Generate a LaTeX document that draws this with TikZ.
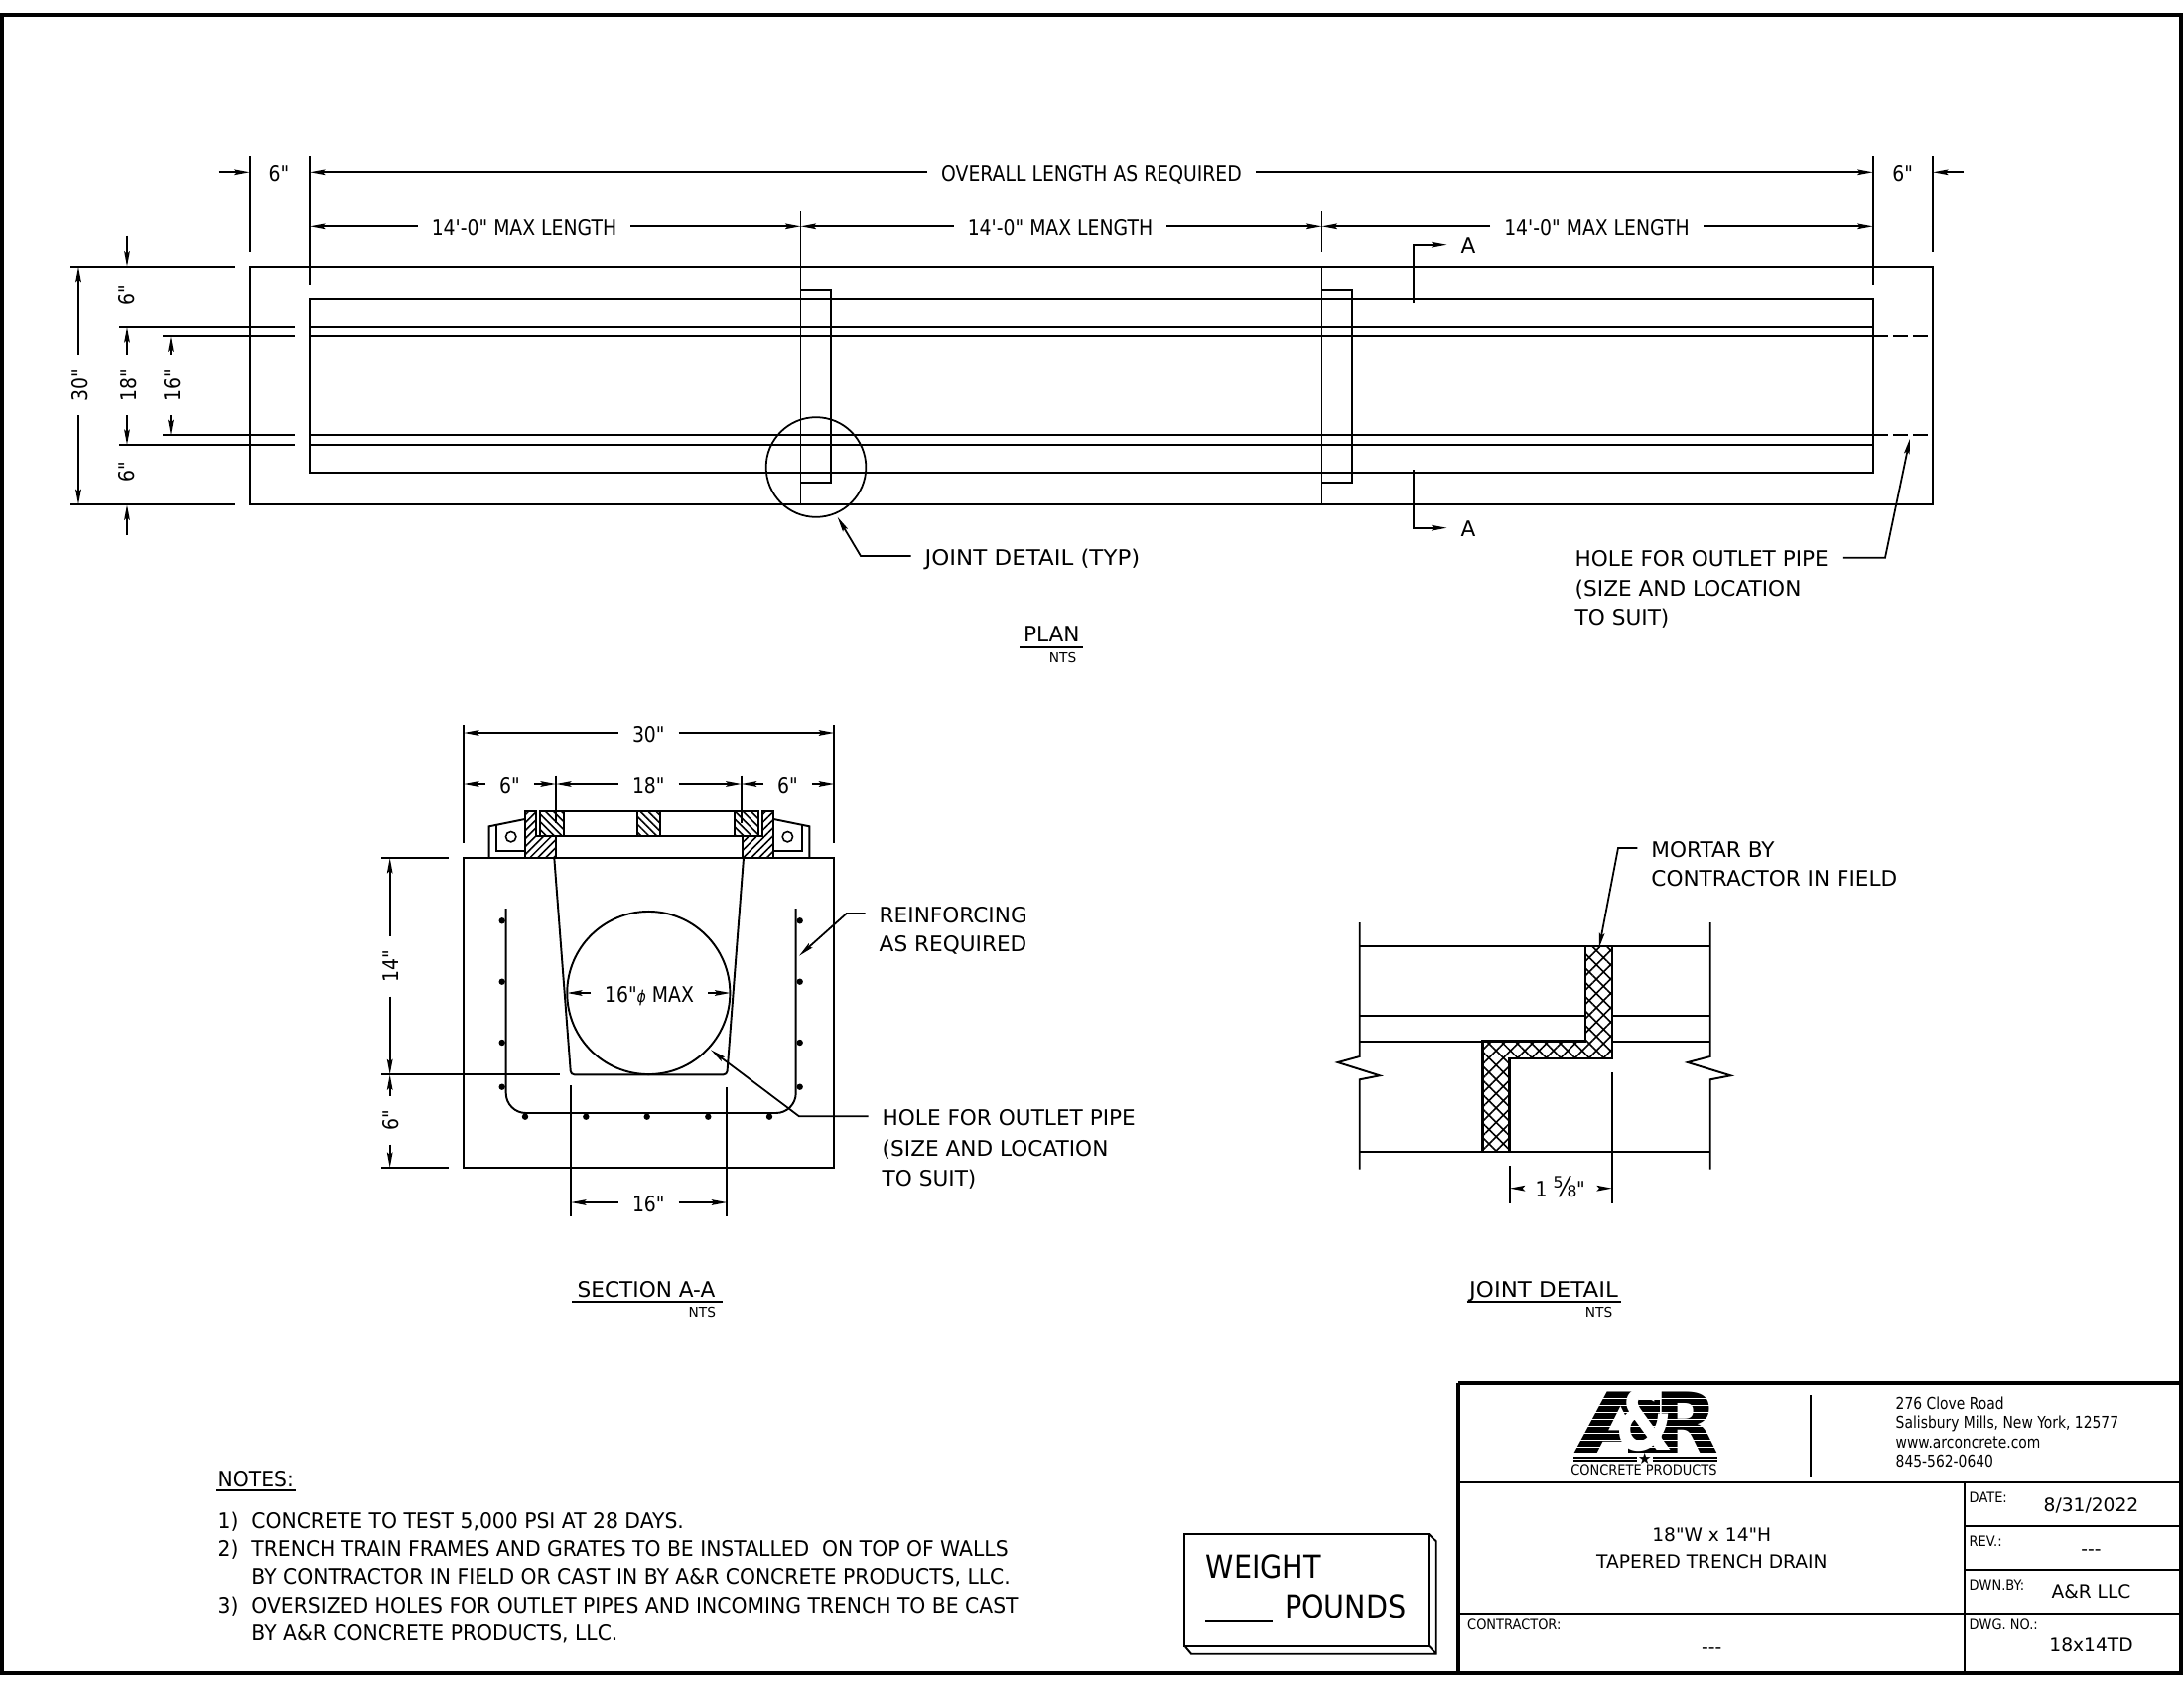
\documentclass[tikz,border=0pt]{standalone}
\usepackage{fontspec}
\setmainfont{DejaVu Sans}[Ligatures=TeXOff]
\newfontfamily\dimfamily{DejaVu Sans}[Ligatures=TeXOff,FakeStretch=0.87]
\newfontfamily\notefamily{DejaVu Sans}[Ligatures=TeXOff,FakeStretch=0.94]
\newfontfamily\widefamily{DejaVu Sans}[Ligatures=TeXOff,FakeStretch=1.06]
\newfontfamily\bigfamily{DejaVu Sans}[Ligatures=TeXOff,FakeStretch=0.895]
\newfontfamily\addrfamily{DejaVu Sans}[Ligatures=TeXOff,FakeStretch=0.84]
\newfontfamily\lblfamily{DejaVu Sans}[Ligatures=TeXOff,FakeStretch=0.9]
\usetikzlibrary{arrows.meta,patterns.meta,calc}
\newcommand{\cadsize}{\fontsize{6.15}{7}\selectfont}
\newcommand{\ntssize}{\fontsize{3.9}{5}\selectfont}
\newcommand{\valsize}{\fontsize{5.3}{6}\selectfont}
\tikzset{part/.style={line width=.55pt}}
\tikzset{tip/.style={-{Stealth[length=4.4pt,width=1.6pt,inset=.7pt]}}}
\tikzset{dimline/.style={line width=.5pt,tip}}
\tikzset{cadtext/.style={font=\cadsize,inner sep=0pt,text height=1.8mm,text depth=0pt}}
\tikzset{dimtext/.style={cadtext,font=\dimfamily\cadsize,inner xsep=3.8pt}}
\tikzset{sixtext/.style={cadtext,font=\dimfamily\cadsize}}
\tikzset{leadtext/.style={cadtext,inner xsep=3.8pt,anchor=west}}
\tikzset{linetext/.style={cadtext,anchor=west}}
\tikzset{notetext/.style={linetext,font=\notefamily\cadsize}}
\tikzset{ntstext/.style={font=\ntssize,inner sep=0pt,text height=1mm,text depth=0pt,anchor=east}}
\tikzset{lbltext/.style={font=\lblfamily\fontsize{4.1}{5}\selectfont,inner sep=0pt,text height=1.05mm,text depth=0pt,anchor=west}}
\tikzset{addrtext/.style={font=\addrfamily\fontsize{4.7}{6}\selectfont,inner sep=0pt,text height=1.2mm,text depth=0pt,anchor=west}}
\tikzset{valtext/.style={font=\valsize,inner sep=0pt,text height=1.4mm,text depth=0pt}}
\tikzset{bigtext/.style={font=\bigfamily\fontsize{9.1}{10}\selectfont,inner sep=0pt,text height=2.3mm,text depth=0pt,anchor=west}}
\tikzset{logotext/.style={font=\fontsize{24}{24}\selectfont\bfseries,inner sep=0pt,text height=6.2mm,text depth=0pt}}
\tikzset{hatchup/.style={pattern={Lines[angle=45,distance=1.6pt,line width=.45pt]}}}
\tikzset{hatchdown/.style={pattern={Lines[angle=-45,distance=1.6pt,line width=.45pt]}}}
\tikzset{mortar/.style={pattern={Hatch[angle=45,distance=2.9pt,line width=.45pt]}}}

\begin{document}
\begin{tikzpicture}
[x=0.01cm,y=-0.01cm]
\useasboundingbox (0,0) rectangle (2200,1700);
\draw[line width=1.4pt] (2,15) rectangle (2197,1685);

\coordinate (oa) at (251.7,268.7);
\coordinate (ob) at (1947,508.3);
\coordinate (ia) at (312,301);
\coordinate (ib) at (1886.7,476);
\coordinate (ja) at (806.5,228.3);
\coordinate (jb) at (1331.5,228.3);

\draw[part] (oa) rectangle (ob);
\draw[part] (ia) rectangle (ib);
\foreach \y in {329,338.3,438.3,448} \draw[part] (ia |- 0,\y) -- (ib |- 0,\y);
\draw[part,dash pattern=on 4.3pt off 1.4pt] (1886.7,338.3) -- (1947,338.3);
\draw[part,dash pattern=on 4.3pt off 1.4pt] (1886.7,438.3) -- (1947,438.3);
\draw[part] (71,268.7) -- (237,268.7);
\draw[part] (71,508.3) -- (237,508.3);
\draw[part] (120,329) -- (297.3,329);
\draw[part] (120,448) -- (297.3,448);
\draw[part] (164,338.3) -- (297.3,338.3);
\draw[part] (164,438.3) -- (297.3,438.3);
\draw[part] (251.7,157.3) -- (251.7,254);
\draw[part] (312,157.3) -- (312,286.7);
\draw[part] (1886.7,157.3) -- (1886.7,286.7);
\draw[part] (1947,157.3) -- (1947,254);
\draw[part] (806.5,213) -- (806.5,508.3);
\draw[part] (1331.5,213) -- (1331.5,254);
\draw[part] (1331.5,268.7) -- (1331.5,508.3);
\draw[part] (806.5,292.3) -- (836.9,292.3) -- (836.9,485.7) -- (806.5,485.7);
\draw[part] (1331.5,292.3) -- (1361.9,292.3) -- (1361.9,485.7) -- (1331.5,485.7);
\node (jcirc) at (822,470.5)[draw,circle,line width=.5pt,minimum size=1.006cm,inner sep=0pt]{};

\node (overall) at (1099.5,173.3)[dimtext]{OVERALL LENGTH AS REQUIRED};
\draw[dimline] (overall.west) -- (overall.west -| ia);
\draw[dimline] (overall.east) -- (overall.east -| ib);
\node (six1) at (281,173.3)[sixtext]{6"};
\node (six2) at (1916.7,173.3)[sixtext]{6"};
\coordinate (six1a) at (220.7,173.3);
\coordinate (six2a) at (1978,173.3);
\draw[dimline] (six1a) -- (six1a -| oa);
\draw[dimline] (six2a) -- (six2a -| ob);
\node (max1) at (528,228.3)[dimtext]{14'-0" MAX LENGTH};
\node (max2) at (1068,228.3)[dimtext]{14'-0" MAX LENGTH};
\node (max3) at (1608.5,228.3)[dimtext]{14'-0" MAX LENGTH};
\draw[dimline] (max1.west) -- (max1.west -| ia);
\draw[dimline] (max1.east) -- (max1.east -| ja);
\draw[dimline] (max2.west) -- (max2.west -| ja);
\draw[dimline] (max2.east) -- (max2.east -| jb);
\draw[dimline] (max3.west) -- (max3.west -| jb);
\draw[dimline] (max3.east) -- (max3.east -| ib);

\node (thirty) at (79,388)[dimtext,rotate=90]{30"};
\draw[dimline] (thirty.east) -- (thirty.east |- oa);
\draw[dimline] (thirty.west) -- (thirty.west |- ob);
\node (eighteen) at (128,388)[dimtext,rotate=90]{18"};
\coordinate (c18a) at (128,329);
\coordinate (c18b) at (128,448);
\draw[dimline] (eighteen.east) -- (c18a);
\draw[dimline] (eighteen.west) -- (c18b);
\node (sixteen) at (172,388)[dimtext,rotate=90]{16"};
\coordinate (c16a) at (172,338.3);
\coordinate (c16b) at (172,438.3);
\draw[dimline] (sixteen.east) -- (c16a);
\draw[dimline] (sixteen.west) -- (c16b);
\node (six3) at (126,296.7)[sixtext,rotate=90]{6"};
\node (six4) at (126,475)[sixtext,rotate=90]{6"};
\coordinate (six3a) at (128,237.7);
\coordinate (six4a) at (128,539);
\draw[dimline] (six3a) -- (six3a |- oa);
\draw[dimline] (six4a) -- (six4a |- ob);

\coordinate (sa1) at (1424,305);
\coordinate (sa2) at (1424,246.7);
\coordinate (sb1) at (1424,473);
\coordinate (sb2) at (1424,531.7);
\node (atop) at (1479,246.7)[cadtext,inner xsep=3.8pt]{A};
\node (abot) at (1479,531.7)[cadtext,inner xsep=3.8pt]{A};
\draw[dimline] (sa1) -- (sa2) -- (atop.west);
\draw[dimline] (sb1) -- (sb2) -- (abot.west);

\node (joint) at (917.6,560)[leadtext,font=\widefamily\cadsize]{JOINT DETAIL (TYP)};
\coordinate (jointb) at (867,560);
\coordinate (jointc) at (843.6,520.7);
\draw[dimline] (joint.west) -- (jointb) -- (jointc);
\node (hole1) at (1572.6,561.7)[leadtext]{HOLE FOR OUTLET PIPE};
\node (hole2) at (1586,591)[linetext]{(SIZE AND LOCATION};
\node (hole3) at (1586,620.7)[linetext]{TO SUIT)};
\coordinate (holeb) at (1899,561.7);
\coordinate (holec) at (1924,441.7);
\draw[dimline] (hole1.east) -- (holeb) -- (holec);

\node (plan) at (1059.3,637.3)[cadtext]{PLAN};
\draw[part] ($(plan.west)+(-3,14.7)$) -- ($(plan.east)+(3,14.7)$);
\node (plannts) at (1085,662.7)[ntstext]{NTS};

\coordinate (sl) at (467,864);
\coordinate (sr) at (840.3,1176);
\draw[part] (sl) rectangle (sr);
\draw[part] (467,730) -- (467,849.3);
\draw[part] (840.3,730) -- (840.3,849.3);
\draw[part] (560,781.7) -- (560,829);
\draw[part] (746.7,781.7) -- (746.7,829);
\draw[part] (384,864) -- (452.3,864);
\draw[part] (384,1176) -- (452.3,1176);
\draw[part] (384,1082.3) -- (564,1082.3);
\draw[part] (575,1093.3) -- (575,1225);
\draw[part] (732.3,1095) -- (732.3,1225);

\draw[part,rounded corners=1pt] (558.3,864) -- (575,1082.3) -- (732.3,1082.3) -- (749,864);
\node (pipe) at (653.3,1000)[draw,circle,line width=.55pt,minimum size=1.64cm,inner sep=0pt]{};
\draw[part,rounded corners=5.7pt] (509.7,915) -- (509.7,1121) -- (801.7,1121) -- (801.7,915);
\foreach \y in {927.3,988.7,1050,1094.7} {
  \fill (505.7,\y) circle (3.2);
  \fill (805.7,\y) circle (3.2);
}
\foreach \x in {529,590.3,651.7,713.3,775} \fill (\x,1124.7) circle (3.2);

\draw[part] (543.7,817.3) -- (763.6,817.3);
\draw[part] (543.7,841.7) -- (763.6,841.7);
\draw[part,hatchdown] (642,817.3) rectangle (665,841.7);
\foreach \m in {0,1} {
\begin{scope}[xshift=\m*13.073cm,xscale=1-2*\m]
\draw[part,hatchup] (528.7,817.3) -- (540,817.3) -- (540,841.7) -- (560,841.7) -- (560,864) -- (528.7,864) -- cycle;
\draw[part,hatchdown] (543.7,817.3) rectangle (567.7,841.7);
\draw[part] (492.7,864) -- (492.7,832.3) -- (528.7,825);
\draw[part] (500,831) -- (500,856.7) -- (528.7,856.7);
\draw[line width=.45pt] (514.7,842.7) circle (5.2);
\end{scope}
}

\coordinate (g0) at (467,738);
\coordinate (g1) at (840.3,738);
\node (s30) at (653.3,738)[dimtext]{30"};
\draw[dimline] (s30.west) -- (g0);
\draw[dimline] (s30.east) -- (g1);
\coordinate (h0) at (467,790);
\coordinate (h1) at (560,790);
\coordinate (h2) at (746.7,790);
\coordinate (h3) at (840.3,790);
\node (s6a) at (513.5,790)[dimtext]{6"};
\node (s18) at (653.3,790)[dimtext]{18"};
\node (s6b) at (793.5,790)[dimtext]{6"};
\draw[dimline] (s6a.west) -- (h0);
\draw[dimline] (s6a.east) -- (h1);
\draw[dimline] (s18.west) -- (h1);
\draw[dimline] (s18.east) -- (h2);
\draw[dimline] (s6b.west) -- (h2);
\draw[dimline] (s6b.east) -- (h3);

\node (s14) at (392.7,973.3)[dimtext,rotate=90]{14"};
\coordinate (v0) at (392.7,864);
\coordinate (v1) at (392.7,1082.3);
\coordinate (v2) at (392.7,1176);
\draw[dimline] (s14.east) -- (v0);
\draw[dimline] (s14.west) -- (v1);
\node (s6c) at (392.7,1128.3)[dimtext,rotate=90]{6"};
\draw[dimline] (s6c.east) -- (v1);
\draw[dimline] (s6c.west) -- (v2);

\node (phi) at (654,1000)[dimtext]{16"{\fontsize{4.6}{5}\selectfont\itshape ϕ} MAX};
\coordinate (p0) at (571,1000);
\coordinate (p1) at (735.5,1000);
\draw[dimline] (phi.west) -- (p0);
\draw[dimline] (phi.east) -- (p1);
\node (s16) at (653.3,1211)[dimtext]{16"};
\coordinate (u0) at (575,1211);
\coordinate (u1) at (732.3,1211);
\draw[dimline] (s16.west) -- (u0);
\draw[dimline] (s16.east) -- (u1);

\node (rein1) at (871.6,920)[leadtext]{REINFORCING};
\node (rein2) at (885,949.3)[linetext]{AS REQUIRED};
\coordinate (reinb) at (852.7,920);
\coordinate (reinc) at (805,962.7);
\draw[dimline] (rein1.west) -- (reinb) -- (reinc);
\node (shole1) at (874.6,1124.3)[leadtext]{HOLE FOR OUTLET PIPE};
\node (shole2) at (888,1155)[linetext]{(SIZE AND LOCATION};
\node (shole3) at (888,1185)[linetext]{TO SUIT)};
\coordinate (sholeb) at (805,1124.3);
\coordinate (sholec) at (716,1057.3);
\draw[dimline] (shole1.west) -- (sholeb) -- (sholec);

\node (section) at (651,1297.3)[cadtext]{SECTION A-A};
\draw[part] ($(section.west)+(-4.7,14)$) -- ($(section.east)+(6.7,14)$);
\node (sectionnts) at (721.7,1321.3)[ntstext]{NTS};

\draw[part] (1369.7,929) -- (1369.7,1064) -- (1347.7,1070) -- (1390,1083.3) -- (1369.7,1087.3) -- (1369.7,1177.7);
\draw[part] (1722.7,929) -- (1722.7,1064) -- (1700,1070) -- (1743.3,1083.3) -- (1722.7,1087.3) -- (1722.7,1177.7);
\draw[part] (1369.7,953) -- (1722.7,953);
\draw[part] (1369.7,1023) -- (1722.7,1023);
\draw[part] (1369.7,1048.7) -- (1722.7,1048.7);
\draw[part] (1369.7,1160) -- (1722.7,1160);
\fill[white] (1597,953) -- (1624,953) -- (1624,1066) -- (1520.7,1066) -- (1520.7,1160) -- (1493.7,1160) -- (1493.7,1048.7) -- (1597,1048.7) -- cycle;
\draw[line width=.8pt,mortar] (1597,953) -- (1624,953) -- (1624,1066) -- (1520.7,1066) -- (1520.7,1160) -- (1493.7,1160) -- (1493.7,1048.7) -- (1597,1048.7) -- cycle;
\draw[part] (1520.7,1174.3) -- (1520.7,1212.3);
\draw[part] (1624,1080) -- (1624,1212.3);
\node (fract) at (1571.7,1196.7)[dimtext]{1 {\fontsize{8}{8}\selectfont ⅝}"};
\coordinate (fr0) at (1520.7,1196.7);
\coordinate (fr1) at (1624,1196.7);
\draw[dimline] (fract.west) -- (fr0);
\draw[dimline] (fract.east) -- (fr1);
\node (mortar1) at (1649.3,854)[leadtext]{MORTAR BY};
\node (mortar2) at (1662.7,883.3)[linetext]{CONTRACTOR IN FIELD};
\coordinate (mortarb) at (1630,854);
\coordinate (mortarc) at (1610.7,955);
\draw[dimline] (mortar1.west) -- (mortarb) -- (mortarc);

\node (jtitle) at (1555,1297.3)[cadtext,font=\widefamily\cadsize]{JOINT DETAIL};
\draw[part] ($(jtitle.west)+(-2,14)$) -- ($(jtitle.east)+(2,14)$);
\node (jtitlents) at (1625,1321.3)[ntstext]{NTS};

\node (notes) at (219,1488.3)[notetext]{NOTES:};
\draw[part] ($(notes.west)+(-1,12.4)$) -- ($(notes.east)+(1,12.4)$);
\node (n1) at (219,1530)[notetext]{1)};
\node (n1a) at (252.7,1530)[notetext]{CONCRETE TO TEST 5,000 PSI AT 28 DAYS.};
\node (n2) at (219,1558.3)[notetext]{2)};
\node (n2a) at (252.7,1558.3)[notetext]{TRENCH TRAIN FRAMES AND GRATES TO BE INSTALLED\ \ ON TOP OF WALLS};
\node (n2b) at (252.7,1586.7)[notetext]{BY CONTRACTOR IN FIELD OR CAST IN BY A\&R CONCRETE PRODUCTS, LLC.};
\node (n3) at (219,1615)[notetext]{3)};
\node (n3a) at (252.7,1615)[notetext]{OVERSIZED HOLES FOR OUTLET PIPES AND INCOMING TRENCH TO BE CAST};
\node (n3b) at (252.7,1643.3)[notetext]{BY A\&R CONCRETE PRODUCTS, LLC.};

\draw[part] (1193.3,1545) rectangle (1439.3,1657.7);
\draw[part] (1439.3,1545) -- (1446.7,1552.3) -- (1446.7,1665.7) -- (1200,1665.7) -- (1193.3,1657.7);
\draw[part] (1439.3,1657.7) -- (1446.7,1665.7);
\node (weight) at (1214,1578.3)[bigtext]{WEIGHT};
\node (pounds) at (1293.3,1618.3)[bigtext]{POUNDS};
\coordinate (blank0) at (1214,1633.3);
\coordinate (blank1) at (1281.7,1633.3);
\draw[part] (blank0) -- (blank1);

\draw[line width=1.1pt] (1469,1393.3) -- (2197,1393.3);
\draw[line width=1pt] (1469,1393.3) -- (1469,1685);
\draw[line width=.65pt] (1469,1492.7) -- (2197,1492.7);
\draw[line width=.5pt] (1823.8,1405) -- (1823.8,1486.7);
\draw[line width=.55pt] (1469,1625) -- (2197,1625);
\draw[line width=.55pt] (1979,1492.7) -- (1979,1685);
\draw[line width=.55pt] (1979,1536.7) -- (2197,1536.7);
\draw[line width=.55pt] (1979,1580.7) -- (2197,1580.7);

\node (logoa) at (1633,1432.5)[logotext]{\scalebox{1.45}[1]{A}};
\node (logor) at (1699,1432.5)[logotext]{R};
\fill (1640,1410) rectangle (1672,1463);
\foreach \y in {1408,1415,1422,1429,1436,1443,1450,1457} \draw[white,line width=.18pt] (1584,\y) -- (1732,\y);
\node (logoamp) at (1657,1430)[font=\fontsize{19}{19}\selectfont\bfseries,text=white,inner sep=0pt]{\scalebox{1}[1.25]{\&}};
\draw[line width=.4pt] (1585,1468) -- (1649,1468);
\draw[line width=.4pt] (1585,1471) -- (1649,1471);
\draw[line width=.4pt] (1665,1468) -- (1730,1468);
\draw[line width=.4pt] (1665,1471) -- (1730,1471);
\node (logostar) at (1656.8,1469)[font=\fontsize{4.4}{5}\selectfont,inner sep=0pt]{★};
\node (logotext) at (1656,1480.5)[lbltext,anchor=center]{CONCRETE PRODUCTS};

\node (addr1) at (1909,1413.3)[addrtext]{276 Clove Road};
\node (addr2) at (1909,1432.7)[addrtext]{Salisbury Mills, New York, 12577};
\node (addr3) at (1909,1452)[addrtext]{www.arconcrete.com};
\node (addr4) at (1909,1471)[addrtext]{845-562-0640};
\node (title1) at (1724.3,1545.7)[valtext]{18"W x 14"H};
\node (title2) at (1724.3,1572.7)[valtext]{TAPERED TRENCH DRAIN};
\node (date) at (1983,1508.3)[lbltext]{DATE:};
\node (rev) at (1983,1552.3)[lbltext]{REV.:};
\node (dwn) at (1983,1596)[lbltext]{DWN.BY:};
\node (dwg) at (1983,1636.7)[lbltext]{DWG. NO.:};
\node (contractor) at (1477.5,1636.7)[lbltext]{CONTRACTOR:};
\node (dateval) at (2106.5,1515)[valtext]{8/31/2022};
\node (revval) at (2106.5,1559)[valtext]{---};
\node (dwnval) at (2106.5,1602.7)[valtext]{A\&R LLC};
\node (dwgval) at (2106.5,1656)[valtext]{18x14TD};
\node (conval) at (1724.3,1658.3)[valtext]{---};
\end{tikzpicture}
\end{document}
